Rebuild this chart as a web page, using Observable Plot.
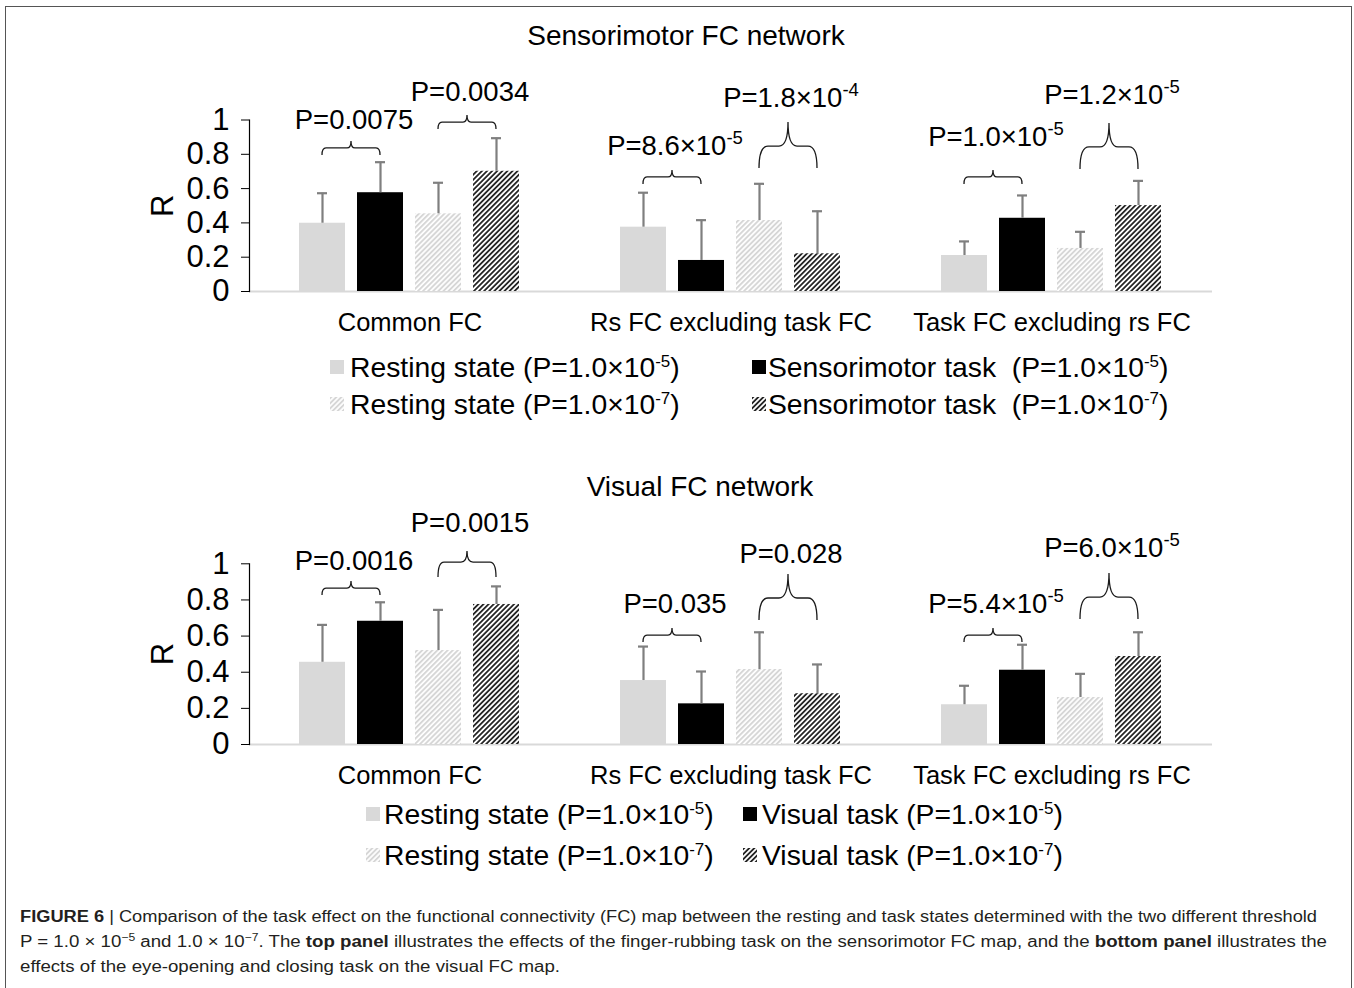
<!DOCTYPE html>
<html><head><meta charset="utf-8">
<script src="https://cdn.jsdelivr.net/npm/d3@7"></script>
<script src="https://cdn.jsdelivr.net/npm/@observablehq/plot@0.6"></script>
<style>
html,body{margin:0;padding:0;background:#fff;}
body{width:1354px;height:988px;position:relative;overflow:hidden;font-family:"Liberation Sans",Arial,Helvetica,sans-serif;color:#000;}
.panel{position:absolute;left:0;}
.title{position:absolute;width:0;font-size:28px;line-height:1;white-space:nowrap;display:flex;justify-content:center;}
.legtxt{position:absolute;font-size:28.3px;line-height:1;white-space:nowrap;}
.legsw{position:absolute;width:14px;height:14px;}
.legtxt sup{font-size:0.6em;vertical-align:0.6em;line-height:0;}
.cap{position:absolute;left:20px;font-size:16px;line-height:1;white-space:nowrap;color:#231f20;transform-origin:0 0;}
.cap sup{font-size:0.65em;vertical-align:0.55em;line-height:0;}
#border{position:absolute;left:5px;top:6px;width:1347px;height:1200px;border:1.5px solid #555;box-sizing:border-box;}
</style></head>
<body>
<svg width="0" height="0" style="position:absolute">
  <defs>
    <pattern id="hatchLight" patternUnits="userSpaceOnUse" width="3.6" height="3.6" patternTransform="rotate(45)">
      <rect width="3.6" height="3.6" fill="#fff"/>
      <rect width="1.9" height="3.6" fill="#d6d6d6"/>
    </pattern>
    <pattern id="hatchDark" patternUnits="userSpaceOnUse" width="3.6" height="3.6" patternTransform="rotate(45)">
      <rect width="3.6" height="3.6" fill="#fff"/>
      <rect width="1.8" height="3.6" fill="#262626"/>
    </pattern>
  </defs>
</svg>
<div id="border"></div>
<div class="title" style="left:686px;top:22px"><span>Sensorimotor FC network</span></div>
<div class="title" style="left:700px;top:473px"><span>Visual FC network</span></div>
<div id="p1" class="panel" style="top:0px"></div>
<div id="p2" class="panel" style="top:450px"></div>
<div id="legends"></div>
<div id="caption"></div>
<script>
// ---------- data ----------
const groups = ["Common FC", "Rs FC excluding task FC", "Task FC excluding rs FC"];
const series = ["rest5", "task5", "rest7", "task7"];
const yTicks = [0, 0.2, 0.4, 0.6, 0.8, 1];

// Sensorimotor network: mean R and SD per group (rows) and series (columns)
const sensMean = [[0.398, 0.576, 0.453, 0.701], [0.375, 0.181, 0.414, 0.220], [0.210, 0.427, 0.251, 0.501]];
const sensSD   = [[0.175, 0.178, 0.181, 0.193], [0.201, 0.235, 0.214, 0.248], [0.082, 0.133, 0.097, 0.144]];
// Visual network
const visMean = [[0.455, 0.682, 0.520, 0.775], [0.354, 0.225, 0.415, 0.281], [0.220, 0.411, 0.260, 0.487]];
const visSD   = [[0.207, 0.105, 0.225, 0.100], [0.188, 0.179, 0.206, 0.162], [0.105, 0.141, 0.131, 0.134]];

// Significance brackets: group index, bar pair, bracket level (R), label level (R), shape
const sensBrackets = [
  {group: 0, from: 0, to: 1, level: 0.834, labelAt: 0.945, shape: "small", label: "P=0.0075"},
  {group: 0, from: 2, to: 3, level: 0.985, labelAt: 1.110, shape: "small", label: "P=0.0034"},
  {group: 1, from: 0, to: 1, level: 0.665, labelAt: 0.795, shape: "small", label: "P=8.6×10^-5"},
  {group: 1, from: 2, to: 3, level: 0.845, labelAt: 1.075, shape: "large", label: "P=1.8×10^-4"},
  {group: 2, from: 0, to: 1, level: 0.665, labelAt: 0.847, shape: "small", label: "P=1.0×10^-5"},
  {group: 2, from: 2, to: 3, level: 0.840, labelAt: 1.090, shape: "large", label: "P=1.2×10^-5"}
];
const visBrackets = [
  {group: 0, from: 0, to: 1, level: 0.863, labelAt: 0.963, shape: "small", label: "P=0.0016"},
  {group: 0, from: 2, to: 3, level: 1.007, labelAt: 1.173, shape: "medium", label: "P=0.0015"},
  {group: 1, from: 0, to: 1, level: 0.603, labelAt: 0.725, shape: "small", label: "P=0.035"},
  {group: 1, from: 2, to: 3, level: 0.808, labelAt: 1.002, shape: "large", label: "P=0.028"},
  {group: 2, from: 0, to: 1, level: 0.603, labelAt: 0.725, shape: "small", label: "P=5.4×10^-5"},
  {group: 2, from: 2, to: 3, level: 0.813, labelAt: 1.035, shape: "large", label: "P=6.0×10^-5"}
];

const sensLegend = ["Resting state (P=1.0×10^-5)", "Sensorimotor task  (P=1.0×10^-5)", "Resting state (P=1.0×10^-7)", "Sensorimotor task  (P=1.0×10^-7)"];
const visLegend  = ["Resting state (P=1.0×10^-5)", "Visual task (P=1.0×10^-5)", "Resting state (P=1.0×10^-7)", "Visual task (P=1.0×10^-7)"];

// ---------- styles ----------
const seriesFill = {rest5: "#d9d9d9", task5: "#000000", rest7: "url(#hatchLight)", task7: "url(#hatchDark)"};
const shapes = {small: {leg: 7, tip: 7, r: 4}, medium: {leg: 15, tip: 11, r: 6}, large: {leg: 22, tip: 24, r: 9}};
const FONT = '"Liberation Sans", Arial, Helvetica, sans-serif';

function renderBrackets(br) {
  return (index, scales) => {
    const g = d3.create("svg:g");
    const xs = scales.x;
    const bw = typeof xs.bandwidth === "function" ? xs.bandwidth() : (xs.bandwidth || 0);
    for (const i of index) {
      const b = br[i];
      const x1 = xs(b.fromS) + bw / 2, x2 = xs(b.toS) + bw / 2;
      const xm = (x1 + x2) / 2, y = scales.y(b.level);
      const s = shapes[b.shape];
      const p = d3.path();
      p.moveTo(x1, y + s.leg);
      p.quadraticCurveTo(x1, y, x1 + s.r, y);
      p.lineTo(xm - s.r, y);
      p.quadraticCurveTo(xm, y, xm, y - s.tip);
      p.quadraticCurveTo(xm, y, xm + s.r, y);
      p.lineTo(x2 - s.r, y);
      p.quadraticCurveTo(x2, y, x2, y + s.leg);
      g.append("path").attr("d", p.toString()).attr("fill", "none")
        .attr("stroke", "#1a1a1a").attr("stroke-width", 1.3);
      const [base, sup] = b.label.split("^");
      const t = g.append("text").attr("x", xm + 3).attr("y", scales.y(b.labelAt))
        .attr("text-anchor", "middle").attr("font-size", 27.5).attr("fill", "#000");
      t.append("tspan").text(base);
      if (sup) t.append("tspan").attr("dy", -11).attr("font-size", 18.5).text(sup);
    }
    return g.node();
  };
}

function panel(means, sds, brackets, mTop, mBottom) {
  const data = [];
  groups.forEach((g, gi) => series.forEach((s, si) =>
    data.push({group: g, series: s, mean: means[gi][si], sd: sds[gi][si]})));
  const br = brackets.map(b => ({...b, groupName: groups[b.group], fromS: series[b.from], toS: series[b.to]}));
  return Plot.plot({
    width: 1354, height: 340,
    marginLeft: 249, marginRight: 142, marginTop: mTop, marginBottom: mBottom,
    style: {fontFamily: FONT, color: "#000", background: "transparent", overflow: "visible"},
    fx: {domain: groups, padding: 0, label: null},
    x: {domain: series, paddingInner: 0.2, paddingOuter: 0.855, axis: null},
    y: {domain: [0, 1]},
    marks: [
      Plot.ruleY([0], {stroke: "#d9d9d9", strokeWidth: 2}),
      ...series.map(s => Plot.barY(data, {filter: d => d.series === s, fx: "group", x: "series", y: "mean", fill: seriesFill[s]})),
      Plot.ruleX(data, {fx: "group", x: "series", y1: "mean", y2: d => d.mean + d.sd, stroke: "#7f7f7f", strokeWidth: 2.2}),
      Plot.tickY(data, {fx: "group", x: "series", y: d => d.mean + d.sd, stroke: "#7f7f7f", strokeWidth: 2.2, insetLeft: 18, insetRight: 18}),
      Plot.dot(br, {fx: "groupName", x: "fromS", y: "level", render: renderBrackets(br)}),
      Plot.frame({anchor: "left", facetAnchor: "left", stroke: "#000", strokeWidth: 1.2}),
      Plot.axisY({ticks: yTicks, tickFormat: d => String(d), tickSize: 8, tickPadding: 12, fontSize: 31,
        label: "R", labelArrow: "none", labelAnchor: "center", labelOffset: 99, stroke: "#000"}),
      Plot.axisFx({anchor: "bottom", tickSize: 0, tickPadding: 21, fontSize: 25.5, label: null})
    ]
  });
}

document.getElementById("p1").appendChild(panel(sensMean, sensSD, sensBrackets, 119.5, 49));
document.getElementById("p2").appendChild(panel(visMean, visSD, visBrackets, 113.3, 46));

// ---------- legends ----------
function supHTML(label) {
  const [base, sup] = label.split("^");
  if (!sup) return base;
  const m = sup.match(/^([^)]*)(\).*)$/);
  return base + "<sup>" + (m ? m[1] : sup) + "</sup>" + (m ? m[2] : "");
}
function legend(labels, swX, txX, rows) {
  const root = document.getElementById("legends");
  labels.forEach((lab, i) => {
    const col = i % 2, row = Math.floor(i / 2);
    const cy = rows[row];
    const sw = document.createElementNS("http://www.w3.org/2000/svg", "svg");
    sw.setAttribute("class", "legsw");
    sw.style.left = swX[col] + "px"; sw.style.top = (cy - 7) + "px";
    const r = document.createElementNS("http://www.w3.org/2000/svg", "rect");
    r.setAttribute("width", 14); r.setAttribute("height", 14);
    r.setAttribute("fill", seriesFill[series[i]]);
    sw.appendChild(r); root.appendChild(sw);
    const t = document.createElement("div");
    t.className = "legtxt";
    t.style.left = txX[col] + "px"; t.style.top = (cy - 0.49 * 28.3) + "px";
    t.innerHTML = supHTML(lab).replace(/  /g, "&nbsp; ");
    root.appendChild(t);
  });
}
legend(sensLegend, [330, 752], [350, 768], [367, 404]);
legend(visLegend, [366, 743], [384, 762], [814, 855]);

// ---------- caption ----------
const captionLines = [
  "<b>FIGURE 6</b> | Comparison of the task effect on the functional connectivity (FC) map between the resting and task states determined with the two different threshold",
  "P = 1.0 × 10<sup>−5</sup> and 1.0 × 10<sup>−7</sup>. The <b>top panel</b> illustrates the effects of the finger-rubbing task on the sensorimotor FC map, and the <b>bottom panel</b> illustrates the",
  "effects of the eye-opening and closing task on the visual FC map."
];
const capTops = [909, 934, 959];
const capWidths = [1297, 1307, null];
const capRoot = document.getElementById("caption");
let factor = 1;
captionLines.forEach((html, i) => {
  const d = document.createElement("div");
  d.className = "cap"; d.style.top = capTops[i] + "px"; d.innerHTML = html;
  capRoot.appendChild(d);
  const w = d.getBoundingClientRect().width;
  if (capWidths[i]) factor = capWidths[i] / w;
  d.style.transform = "scaleX(" + factor + ")";
});
</script>
</body></html>
